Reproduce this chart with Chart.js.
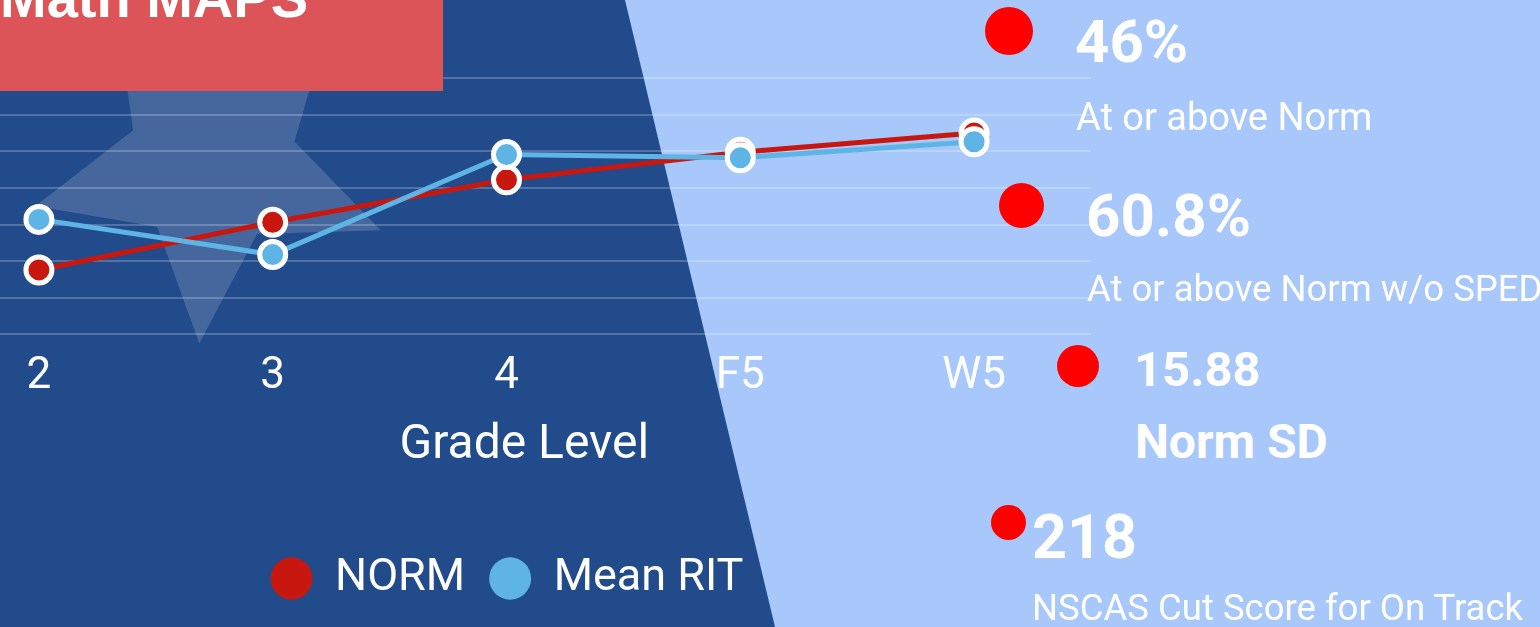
<!DOCTYPE html>
<html>
<head>
<meta charset="utf-8">
<script src="https://cdn.jsdelivr.net/npm/chart.js@4.4.0/dist/chart.umd.min.js"></script>
<style>
  html, body { margin: 0; padding: 0; }
  body {
    width: 1540px; height: 627px; overflow: hidden; position: relative;
    background: #224b8b; font-family: Roboto, sans-serif;
  }
  #light {
    position: absolute; left: 0; top: 0; width: 1540px; height: 627px;
    background: #a8c8fc;
    clip-path: polygon(625px 0, 1540px 0, 1540px 627px, 775px 627px);
  }
  #star { position: absolute; left: 0; top: 0; z-index: 1; }
  #wrap { position: absolute; left: -100px; top: 0; width: 1209px; height: 627px; z-index: 2; }
  #titleBox {
    position: absolute; left: 0; top: 0; width: 443px; height: 91px;
    background: #dc5457; z-index: 3; overflow: hidden;
  }
  #titleBox span {
    position: absolute; left: 0; top: -35px; line-height: 1;
    font: bold 56px "Liberation Sans", Arial, sans-serif; color: #fff; white-space: nowrap;
  }
  .stat { position: absolute; z-index: 3; color: #fff; line-height: 1; white-space: nowrap; }
  .dot { position: absolute; z-index: 3; background: #ff0000; border-radius: 50%; }
</style>
</head>
<body>
<div id="light"></div>
<svg id="star" width="1540" height="627"><polygon id="starShape" fill="rgba(255,255,255,0.16)"></polygon></svg>
<div id="wrap"><canvas id="mapsChart"></canvas></div>
<div id="titleBox"><span>Math MAPS</span></div>
<div id="stats"></div>

<script>
// 데이터
const gradeLabels = ['2', '3', '4', 'F5', 'W5'];
const normValues = [177.6, 190.6, 202.2, 209.7, 215.0];
const meanRitValues = [191.4, 181.8, 209.1, 208.2, 212.6];
const axisMin = 160;
const axisMax = 230;
const axisStep = 10;

// 오른쪽 통계 텍스트
const statTexts = ['46%', 'At or above Norm', '60.8%', 'At or above Norm w/o SPED',
                   '15.88', 'Norm SD', '218', 'NSCAS Cut Score for On Track'];

// 배경 별 모양
(function drawStar() {
    const cx = 212, cy = 162, outer = 182, inner = 85;
    const pts = [];
    for (let i = 0; i < 10; i++) {
        const r = i % 2 === 0 ? outer : inner;
        const a = (22 + i * 36) * Math.PI / 180;
        pts.push((cx + r * Math.cos(a)).toFixed(1) + ',' + (cy + r * Math.sin(a)).toFixed(1));
    }
    document.getElementById('starShape').setAttribute('points', pts.join(' '));
})();

// 빨간 점 + 통계 글자 배치
(function placeStats() {
    const box = document.getElementById('stats');
    const dots = [[1009, 31, 24], [1021, 205, 22.5], [1078, 366, 21], [1008, 522, 17.5]];
    dots.forEach(([x, y, r]) => {
        const d = document.createElement('div');
        d.className = 'dot';
        d.style.cssText = `left:${x - r}px;top:${y - r}px;width:${2 * r}px;height:${2 * r}px;`;
        box.appendChild(d);
    });
    // [크기, 굵기, left, baseline]
    const layout = [
        [60, 700, 1075, 63], [38, 400, 1076, 130],
        [60, 700, 1086, 237], [36.5, 400, 1087, 302],
        [49, 700, 1134, 386], [48, 700, 1135, 458],
        [61, 700, 1032, 558], [36.5, 400, 1032, 621]
    ];
    statTexts.forEach((t, i) => {
        const [size, weight, left, base] = layout[i];
        const s = document.createElement('div');
        s.className = 'stat';
        s.textContent = t;
        s.style.cssText = `left:${left}px;top:${base - size * 0.842}px;font-size:${size}px;font-weight:${weight};`;
        box.appendChild(s);
    });
})();

Chart.defaults.font.family = 'Roboto';

const ctx = document.getElementById('mapsChart').getContext('2d');
new Chart(ctx, {
    type: 'line',
    data: {
        labels: gradeLabels,
        datasets: [{
            label: 'NORM',
            data: normValues,
            borderColor: '#c8170f',
            backgroundColor: '#c8170f',
            pointBackgroundColor: '#c8170f',
            pointBorderColor: '#ffffff',
            pointBorderWidth: 5,
            pointRadius: 13,
            borderWidth: 5,
            tension: 0,
            order: 2
        }, {
            label: 'Mean RIT',
            data: meanRitValues,
            borderColor: '#5eb5e5',
            backgroundColor: '#5eb5e5',
            pointBackgroundColor: '#5eb5e5',
            pointBorderColor: '#ffffff',
            pointBorderWidth: 5,
            pointRadius: 13,
            borderWidth: 5,
            tension: 0,
            order: 1 // 파란 선이 위에 그려지도록
        }]
    },
    options: {
        responsive: true,
        maintainAspectRatio: false,
        animation: false,
        layout: { padding: { left: 5, right: 0, top: 78, bottom: 16 } },
        scales: {
            x: {
                offset: true,
                grid: { display: false, drawTicks: false },
                border: { display: false },
                ticks: { color: '#fff', font: { size: 44 }, padding: 16 },
                title: {
                    display: true,
                    text: '   Grade Level', // 원본처럼 살짝 오른쪽으로
                    color: '#fff',
                    font: { size: 48, lineHeight: 1.1 },
                    padding: { top: 0, bottom: 60 }
                }
            },
            y: {
                min: axisMin,
                max: axisMax,
                ticks: { display: false, stepSize: axisStep },
                border: { display: false },
                grid: { color: 'rgba(255,255,255,0.22)', lineWidth: 2, drawTicks: false },
                afterFit(axis) { axis.width = 17; } // 범례를 조금 왼쪽으로 보내기 위한 빈 폭
            }
        },
        plugins: {
            legend: {
                position: 'bottom',
                labels: {
                    color: '#fff',
                    font: { size: 45 },
                    usePointStyle: true,
                    boxHeight: 30,
                    pointStyleWidth: 42,
                    padding: 24,
                    sort: (a, b) => a.datasetIndex - b.datasetIndex,
                    generateLabels(chart) {
                        return Chart.defaults.plugins.legend.labels.generateLabels(chart).map(item => {
                            const ds = chart.data.datasets[item.datasetIndex];
                            return { ...item, fillStyle: ds.borderColor, strokeStyle: ds.borderColor, lineWidth: 0 };
                        });
                    }
                }
            },
            tooltip: { enabled: false }
        }
    }
});
</script>
</body>
</html>
